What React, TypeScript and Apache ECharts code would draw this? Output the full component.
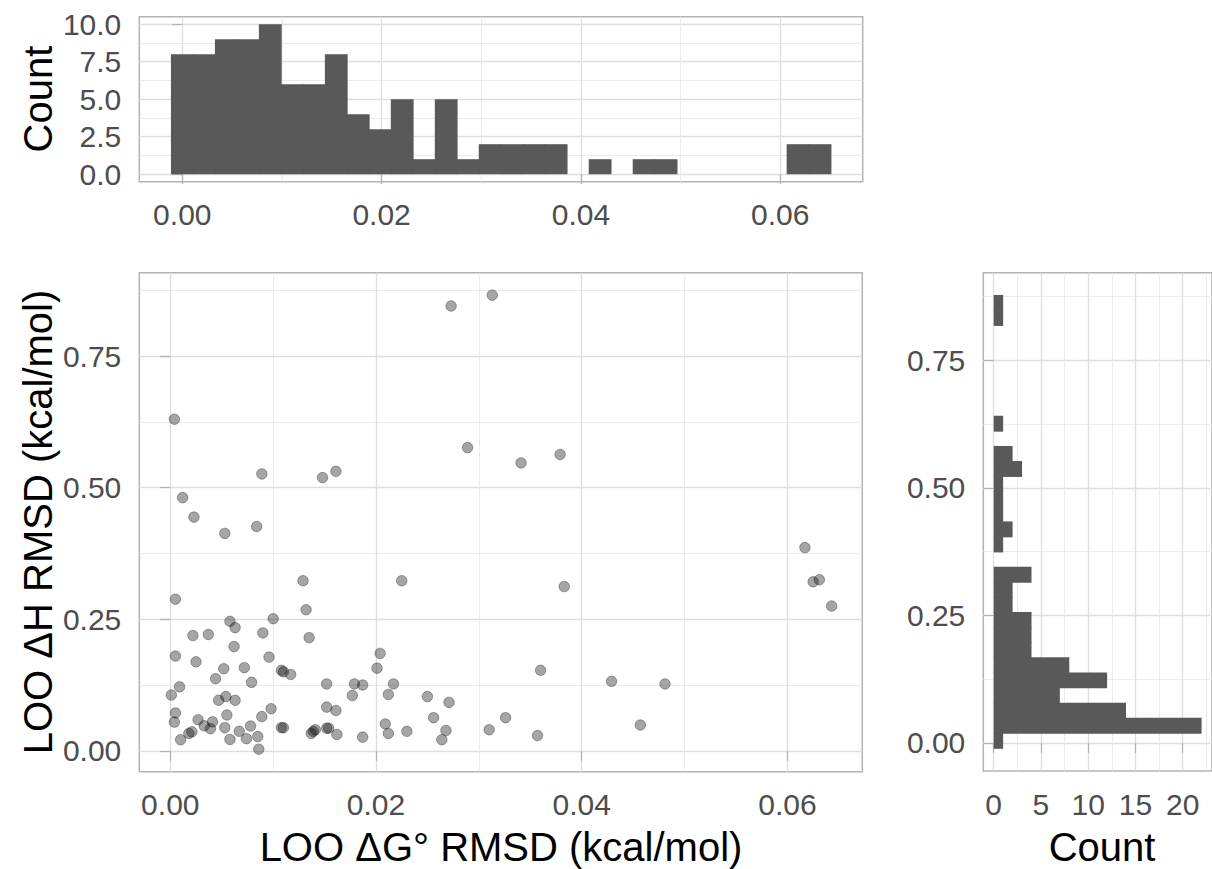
import React, { useEffect, useRef } from "react";
import * as echarts from "echarts";

// ---- scatter data (LOO ΔG° RMSD, LOO ΔH RMSD) ----
const scatterX = [
  0.0273, 0.0313, 0.0004, 0.0089, 0.0148, 0.0161, 0.0289, 0.0012, 0.0023, 0.0341,
  0.0379, 0.0053, 0.0084, 0.0129, 0.0225, 0.0005, 0.0132, 0.0058, 0.0063, 0.0100,
  0.0090, 0.0022, 0.0037, 0.0135, 0.0062, 0.0005, 0.0025, 0.0096, 0.0052, 0.0072,
  0.0044, 0.0079, 0.0108, 0.0110, 0.0117, 0.0204, 0.0201, 0.0152, 0.0179, 0.0187,
  0.0217, 0.0177, 0.0212, 0.0250, 0.0271, 0.0256, 0.0268, 0.0264, 0.0310, 0.0326,
  0.0009, 0.0001, 0.0005, 0.0004, 0.0010, 0.0018, 0.0021, 0.0027, 0.0033, 0.0039,
  0.0041, 0.0047, 0.0054, 0.0063, 0.0055, 0.0053, 0.0058, 0.0067, 0.0074, 0.0078,
  0.0085, 0.0086, 0.0089, 0.0098, 0.0108, 0.0110, 0.0137, 0.0141, 0.0152, 0.0161,
  0.0152, 0.0154, 0.0162, 0.0187, 0.0209, 0.0212, 0.0230, 0.0357, 0.0360, 0.0383,
  0.0429, 0.0457, 0.0481, 0.0617, 0.0625, 0.0631, 0.0643, 0.0139,
];
const scatterY = [
  0.845, 0.8656, 0.630, 0.526, 0.519, 0.531, 0.576, 0.481, 0.444, 0.547,
  0.563, 0.413, 0.426, 0.323, 0.323, 0.288, 0.268, 0.246, 0.234, 0.251,
  0.224, 0.219, 0.221, 0.215, 0.198, 0.180, 0.169, 0.178, 0.156, 0.158,
  0.137, 0.130, 0.153, 0.150, 0.145, 0.185, 0.157, 0.127, 0.127, 0.125,
  0.127, 0.105, 0.107, 0.103, 0.092, 0.063, 0.0385, 0.021, 0.040, 0.063,
  0.1215, 0.106, 0.072, 0.0545, 0.021, 0.033, 0.036, 0.059, 0.0475, 0.042,
  0.055, 0.096, 0.103, 0.096, 0.068, 0.044, 0.0215, 0.037, 0.023, 0.047,
  0.027, 0.003, 0.065, 0.080, 0.044, 0.044, 0.033, 0.040, 0.083, 0.0765,
  0.043, 0.043, 0.031, 0.026, 0.051, 0.033, 0.037, 0.029, 0.153, 0.312,
  0.132, 0.049, 0.127, 0.386, 0.321, 0.325, 0.275, 0.037,
];

// ---- marginal histogram counts (30 bins each) ----
const topCounts = [8, 8, 9, 9, 10, 6, 6, 8, 4, 3, 5, 1, 5, 1, 2, 2, 2, 2, 0, 1, 0, 1, 1, 0, 0, 0, 0, 0, 2, 2];
const topBinStart = -0.0011;
const topBinWidth = 0.0022067;
const rightCounts = [1, 22, 14, 7, 12, 8, 4, 4, 4, 2, 2, 4, 0, 1, 2, 1, 1, 1, 3, 2, 0, 1, 0, 0, 0, 0, 0, 0, 1, 1];
const rightBinStart = -0.0109;
const rightBinWidth = 0.02961;

// ---- ticks ----
const gTicks = [0, 0.02, 0.04, 0.06];
const gMinor = [0.01, 0.03, 0.05];
const hTicks = [0, 0.25, 0.5, 0.75];
const hMinor = [0.125, 0.375, 0.625, 0.875];
const topCountTicks = [0, 2.5, 5, 7.5, 10];
const topCountMinor = [1.25, 3.75, 6.25, 8.75];
const rightCountTicks = [0, 5, 10, 15, 20];
const rightCountMinor = [2.5, 7.5, 12.5, 17.5, 22.5];

const FONT = "'Liberation Sans', Arial, Helvetica, sans-serif";
const BORDER = "#b3b3b3";
const BAR = "#595959";

function majorAxis(gridIndex: number, min: number, max: number, ticks: number[], fmt: (v: number) => string, position: string) {
  return {
    type: "value",
    gridIndex,
    min,
    max,
    position,
    axisLine: { show: false },
    axisTick: { show: true, length: 10, lineStyle: { color: BORDER, width: 1.2 }, customValues: ticks },
    axisLabel: {
      show: true,
      customValues: ticks,
      formatter: (v: number) => fmt(v),
      color: "#4d4d4d",
      fontSize: 30,
      fontFamily: FONT,
      margin: 18,
    },
    splitLine: { show: true, lineStyle: { color: "#dedede", width: 1.3 } },
  };
}

function minorAxis(gridIndex: number, min: number, max: number, ticks: number[], position: string) {
  return {
    type: "value",
    gridIndex,
    min,
    max,
    position,
    axisLine: { show: false },
    axisTick: { show: false, customValues: ticks },
    axisLabel: { show: false, customValues: ticks },
    splitLine: { show: true, lineStyle: { color: "#e6e6e6", width: 0.8 } },
  };
}

export default function App() {
  const ref = useRef<HTMLDivElement>(null);

  useEffect(() => {
    if (!ref.current) return;
    const chart = echarts.init(ref.current, null, { renderer: "svg" });

    const topData = topCounts.map((c, i) => [topBinStart + i * topBinWidth, topBinStart + (i + 1) * topBinWidth, c]);
    const rightData = rightCounts.map((c, i) => [rightBinStart + i * rightBinWidth, rightBinStart + (i + 1) * rightBinWidth, c]);
    const pts = scatterX.map((x, i) => [x, scatterY[i]]);

    const f2 = (v: number) => v.toFixed(2);
    const f1 = (v: number) => v.toFixed(1);
    const f0 = (v: number) => String(Math.round(v));

    const gridStyle = { show: true, borderColor: BORDER, borderWidth: 1.5, backgroundColor: "#ffffff", containLabel: false };

    chart.setOption({
      animation: false,
      backgroundColor: "#ffffff",
      grid: [
        { ...gridStyle, left: 139.3, top: 16.7, width: 723.4, height: 165 },
        { ...gridStyle, left: 139.3, top: 272.7, width: 723, height: 499 },
        { ...gridStyle, left: 983.3, top: 272.7, width: 237.2, height: 498.3 },
      ],
      xAxis: [
        majorAxis(0, -0.004315, 0.06828, gTicks, f2, "bottom"),
        minorAxis(0, -0.004315, 0.06828, gMinor, "bottom"),
        majorAxis(1, -0.003014, 0.06728, gTicks, f2, "bottom"),
        minorAxis(1, -0.003014, 0.06728, gMinor, "bottom"),
        majorAxis(2, -1.1, 23.1, rightCountTicks, f0, "bottom"),
        minorAxis(2, -1.1, 23.1, rightCountMinor, "bottom"),
      ],
      yAxis: [
        majorAxis(0, -0.5, 10.5, topCountTicks, f1, "left"),
        minorAxis(0, -0.5, 10.5, topCountMinor, "left"),
        majorAxis(1, -0.0397, 0.9083, hTicks, f2, "left"),
        minorAxis(1, -0.0397, 0.9083, hMinor, "left"),
        majorAxis(2, -0.0553, 0.9218, hTicks, f2, "left"),
        minorAxis(2, -0.0553, 0.9218, hMinor, "left"),
      ],
      series: [
        {
          type: "custom",
          xAxisIndex: 0,
          yAxisIndex: 0,
          data: topData,
          encode: { x: [0, 1], y: 2 },
          renderItem: (params: any, api: any) => {
            const c = api.value(2);
            if (!c) return null;
            const p0 = api.coord([api.value(0), c]);
            const p1 = api.coord([api.value(1), 0]);
            return {
              type: "rect",
              shape: { x: p0[0] - 0.4, y: p0[1], width: p1[0] - p0[0] + 0.8, height: p1[1] - p0[1] },
              style: { fill: BAR },
            };
          },
        },
        {
          type: "scatter",
          xAxisIndex: 2,
          yAxisIndex: 2,
          data: pts,
          symbol: "circle",
          symbolSize: 10.5,
          itemStyle: { color: "rgba(0,0,0,0.44)", borderColor: "rgba(0,0,0,0.4)", borderWidth: 1 },
        },
        {
          type: "custom",
          xAxisIndex: 4,
          yAxisIndex: 4,
          data: rightData,
          encode: { x: 2, y: [0, 1] },
          renderItem: (params: any, api: any) => {
            const c = api.value(2);
            if (!c) return null;
            const p0 = api.coord([0, api.value(1)]);
            const p1 = api.coord([c, api.value(0)]);
            return {
              type: "rect",
              shape: { x: p0[0], y: p0[1] - 0.4, width: p1[0] - p0[0], height: p1[1] - p0[1] + 0.8 },
              style: { fill: BAR },
            };
          },
        },
      ],
      graphic: [
        {
          type: "text",
          x: 38,
          y: 99,
          rotation: Math.PI / 2,
          style: { text: "Count", fontSize: 40, fontFamily: FONT, fill: "#000000", align: "center", verticalAlign: "middle" },
        },
        {
          type: "text",
          x: 38,
          y: 522,
          rotation: Math.PI / 2,
          style: { text: "LOO ΔH RMSD (kcal/mol)", fontSize: 40, fontFamily: FONT, fill: "#000000", align: "center", verticalAlign: "middle" },
        },
        {
          type: "text",
          x: 501,
          y: 847,
          style: { text: "LOO ΔG° RMSD (kcal/mol)", fontSize: 40, fontFamily: FONT, fill: "#000000", align: "center", verticalAlign: "middle" },
        },
        {
          type: "text",
          x: 1102,
          y: 847,
          style: { text: "Count", fontSize: 40, fontFamily: FONT, fill: "#000000", align: "center", verticalAlign: "middle" },
        },
      ],
    });

    return () => chart.dispose();
  }, []);

  return (
    <div style={{ position: "fixed", left: 0, top: 0, width: 1212, height: 869, overflow: "hidden", background: "#fff" }}>
      <div ref={ref} style={{ width: 1212, height: 869 }} />
    </div>
  );
}
